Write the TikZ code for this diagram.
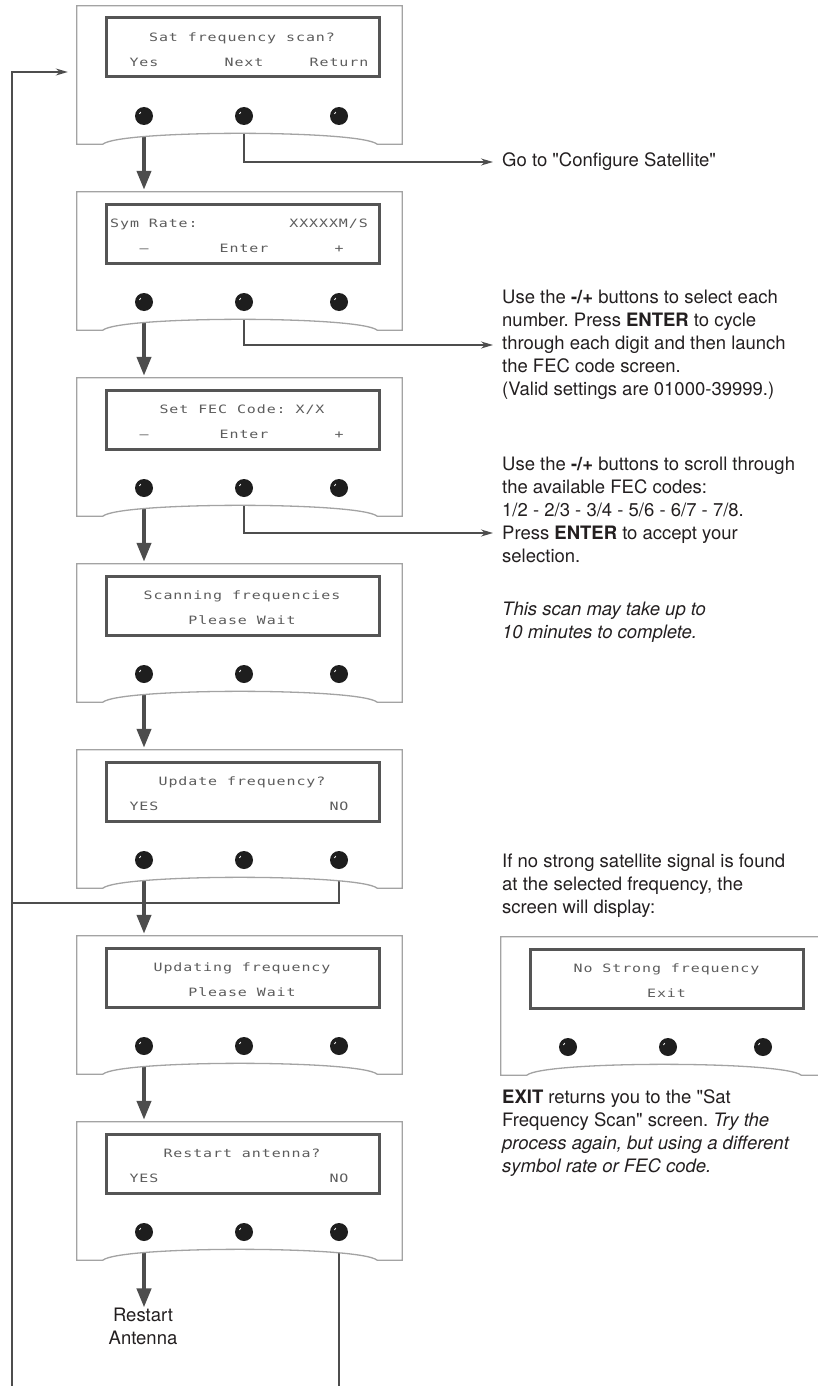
\documentclass[tikz,border=0pt]{standalone}
\usepackage{fontspec}
\setmainfont{TeX Gyre Heros}[Ligatures=TeXOff]
\newfontfamily\lcdfont[FakeStretch=1.3, LetterSpace=8]{DejaVu Sans Mono}
\usetikzlibrary{arrows.meta,calc}
\definecolor{rimgray}{HTML}{A3A3A3}
\definecolor{lcdgray}{HTML}{555555}
\definecolor{lcdink}{HTML}{5C5C5C}
\definecolor{flowgray}{HTML}{4D4D4D}
\definecolor{knobblack}{HTML}{1E1E1E}
\definecolor{inkgray}{HTML}{231F20}
\newcommand\notefont{\fontsize{18.5}{23}\selectfont}
\frenchspacing
\pgfdeclarelayer{back}
\pgfsetlayers{back,main}

\begin{document}
\begin{tikzpicture}[
  x=1pt, y=-1pt,
  plate/.style={rectangle, minimum width=325pt, minimum height=138pt, inner sep=0pt},
  rim/.style={draw=rimgray, line width=1.3pt, fill=white},
  lcd/.style={rectangle, draw=lcdgray, line width=3pt, fill=white, minimum width=273pt, minimum height=59pt, inner sep=0pt},
  knob/.style={circle, fill=knobblack, minimum size=18pt, inner sep=0pt,
    path picture={\draw[white, line width=0.8pt] ([shift={(-4.5,-2)}]path picture bounding box.center) -- ++(1.2,-2);}},
  lcdtext/.style={font=\lcdfont\fontsize{11.5}{12}\selectfont, text=lcdink, inner sep=0pt, text height=8pt, text depth=0pt},
  note/.style={font=\notefont, text=inkgray, align=left, anchor=west, inner sep=0pt},
  stepdown/.style={draw=flowgray, line width=4pt, -{Triangle[length=19pt,width=14pt]}},
  link/.style={draw=flowgray, line width=1.5pt, -{Stealth[length=12pt,width=7pt]}},
  wire/.style={draw=flowgray, line width=1.5pt}
]
  \useasboundingbox (0,0) rectangle (817,1386);

  % Front plates with display and keys
  \foreach \n/\x/\y in {1/77/6, 2/77/192, 3/77/378, 4/77/564, 5/77/750, 6/77/936, 7/77/1122, 8/501/937} {
    \node[plate] (p\n) at (\x+162.5,\y+69) {};
    \draw[rim] (p\n.south west) -- (p\n.north west) -- (p\n.north east) -- (p\n.south east)
      -- ++(-25,0) .. controls ($(p\n.south east)+(-42,-14.5)$) and ($(p\n.south west)+(43,-14.5)$) .. ($(p\n.south west)+(26,0)$) -- cycle;
    \node[lcd] (lcd\n) at (\x+165.5,\y+41.5) {};
    \node[knob] (k\n a) at (\x+67,\y+110) {};
    \node[knob] (k\n b) at (\x+167,\y+110) {};
    \node[knob] (k\n c) at (\x+262,\y+110) {};
  }

  % Display texts
  \node[lcdtext] (s1) at (242,37.5) {Sat frequency scan?};
  \node[lcdtext] (s1a) at (144,62.5) {Yes};
  \node[lcdtext] (s1b) at (244,62.5) {Next};
  \node[lcdtext] (s1c) at (339,62.5) {Return};

  \node[lcdtext, anchor=west] (s2) at (110,223.5) {Sym Rate:};
  \node[lcdtext, anchor=east] (s2r) at (368,223.5) {XXXXXM/S};
  \node[lcdtext] (s2a) at (144,248.5) {–};
  \node[lcdtext] (s2b) at (244,248.5) {Enter};
  \node[lcdtext] (s2c) at (339,248.5) {+};

  \node[lcdtext] (s3) at (242,409.5) {Set FEC Code: X/X};
  \node[lcdtext] (s3a) at (144,434.5) {–};
  \node[lcdtext] (s3b) at (244,434.5) {Enter};
  \node[lcdtext] (s3c) at (339,434.5) {+};

  \node[lcdtext] (s4) at (242,595.5) {Scanning frequencies};
  \node[lcdtext] (s4b) at (242,620.5) {Please Wait};

  \node[lcdtext] (s5) at (242,781.5) {Update frequency?};
  \node[lcdtext] (s5a) at (144,806.5) {YES};
  \node[lcdtext] (s5c) at (339,806.5) {NO};

  \node[lcdtext] (s6) at (242,967.5) {Updating frequency};
  \node[lcdtext] (s6b) at (242,992.5) {Please Wait};

  \node[lcdtext] (s7) at (242,1153.5) {Restart antenna?};
  \node[lcdtext] (s7a) at (144,1178.5) {YES};
  \node[lcdtext] (s7c) at (339,1178.5) {NO};

  \node[lcdtext] (s8) at (666.5,968.5) {No Strong frequency};
  \node[lcdtext] (s8b) at (666.5,993.5) {Exit};

  % Notes
  \node[note] (gocfg) at (502,162) {Go to "Configure Satellite"};
  \node[note] (symnote) at (502,345) {Use the \textbf{-/+} buttons to select each\\
    number. Press \textbf{ENTER} to cycle\\
    through each digit and then launch\\
    the FEC code screen.\\
    (Valid settings are 01000-39999.)};
  \node[note] (fecnote) at (502,510) {Use the \textbf{-/+} buttons to scroll through\\
    the available FEC codes:\\
    1/2 - 2/3 - 3/4 - 5/6 - 6/7 - 7/8.\\
    Press \textbf{ENTER} to accept your\\
    selection.};
  \node[note, font=\notefont\itshape] (scannote) at (502,622) {This scan may take up to\\
    10 minutes to complete.};
  \node[note] (failnote) at (502,886) {If no strong satellite signal is found\\
    at the selected frequency, the\\
    screen will display:};
  \node[note] (exitnote) at (502,1133) {\textbf{EXIT} returns you to the "Sat\\
    Frequency Scan" screen. \textit{Try the}\\
    \textit{process again, but using a different}\\
    \textit{symbol rate or FEC code.}};
  \node[note, anchor=center, align=center] (restart) at (143,1326) {Restart\\Antenna};

  \coordinate (join) at (12,903);
  \coordinate (loopfoot) at (12,1386);

  % Connectors
  \begin{pgfonlayer}{back}
    \draw[link, shorten >=9pt] (k1b) |- (gocfg.west);
    \draw[link, shorten >=9pt] (k2b) |- (symnote.west);
    \draw[link, shorten >=9pt] (k3b) |- ([yshift=-23pt]fecnote.west);
    \draw[wire] (k5c) |- (join);
    \draw[wire] (k7c) -- (k7c |- loopfoot);
    \draw[link, shorten >=9pt] (loopfoot) |- ([yshift=3pt]p1.west);
    \foreach \n/\m in {1/2,2/3,3/4,4/5,5/6,6/7}
      \draw[stepdown, shorten >=2pt] (k\n a) -- (k\n a |- p\m.north);
    \draw[stepdown] (k7a) -- (k7a |- restart.north);
  \end{pgfonlayer}
\end{tikzpicture}
\end{document}
